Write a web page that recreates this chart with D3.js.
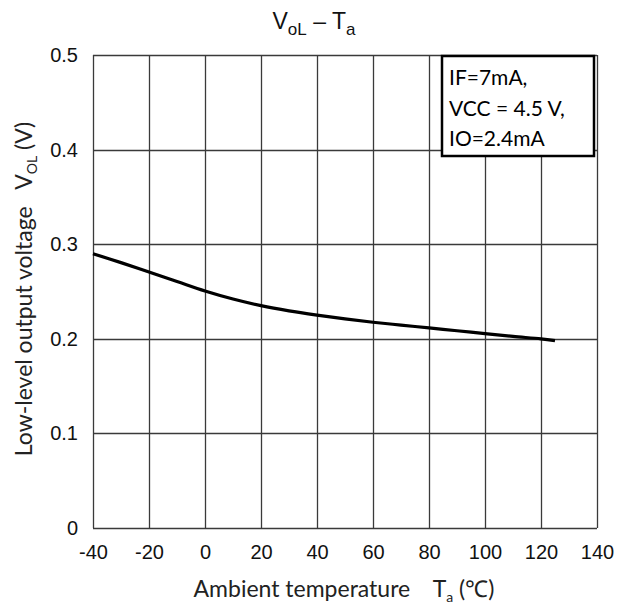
<!DOCTYPE html>
<html>
<head>
<meta charset="utf-8">
<script src="https://cdn.jsdelivr.net/npm/d3@7"></script>
<style>
  body { margin: 0; background: #fff; }
  svg { display: block; }
</style>
</head>
<body>
<div id="chart"></div>
<script>
const width = 629;
const height = 606;

// ambient temperature (degC) and low-level output voltage (V)
const temps = [-40, -30, -20, -10, 0, 10, 20, 30, 40, 50, 60, 70, 80, 90, 100, 110, 120, 125];
const vol = [0.290, 0.2805, 0.2705, 0.2605, 0.2505, 0.242, 0.235, 0.2295, 0.225, 0.221, 0.2175, 0.2145, 0.2115, 0.2085, 0.2055, 0.2025, 0.200, 0.198];

const xTicks = [-40, -20, 0, 20, 40, 60, 80, 100, 120, 140];
const yTicks = [0, 0.1, 0.2, 0.3, 0.4, 0.5];
const noteLines = ['IF=7mA,', 'VCC = 4.5 V,', 'IO=2.4mA'];

const plotLeft = 93, plotRight = 597, plotTop = 55, plotBottom = 528;

const svg = d3.select('#chart')
    .append('svg')
        .attr('width', width)
        .attr('height', height);

const x = d3.scaleLinear().domain([-40, 140]).range([plotLeft, plotRight]);
const y = d3.scaleLinear().domain([0, 0.5]).range([plotBottom, plotTop]);

// grid
svg.append('g')
    .selectAll('line')
    .data(xTicks)
    .enter()
    .append('line')
        .attr('x1', d => Math.round(x(d)) + 0.5)
        .attr('x2', d => Math.round(x(d)) + 0.5)
        .attr('y1', plotTop)
        .attr('y2', plotBottom)
        .attr('stroke', '#3a3a3a')
        .attr('stroke-width', 1.3);

svg.append('g')
    .selectAll('line')
    .data(yTicks)
    .enter()
    .append('line')
        .attr('x1', plotLeft)
        .attr('x2', plotRight)
        .attr('y1', d => Math.round(y(d)) + 0.5)
        .attr('y2', d => Math.round(y(d)) + 0.5)
        .attr('stroke', '#3a3a3a')
        .attr('stroke-width', 1.3);

// tick labels via axes, domain and tick marks hidden
const xAxis = svg.append('g')
    .attr('transform', `translate(0,${plotBottom})`)
    .call(d3.axisBottom(x).tickValues(xTicks).tickSize(0).tickPadding(17).tickFormat(d => String(d)));
const yAxis = svg.append('g')
    .attr('transform', `translate(${plotLeft},0)`)
    .call(d3.axisLeft(y).tickValues(yTicks).tickSize(0).tickPadding(15).tickFormat(d => d === 0 ? '0' : d3.format('.1f')(d)));

[xAxis, yAxis].forEach(a => {
    a.select('.domain').remove();
    a.selectAll('text')
        .attr('font-family', '"Liberation Sans", Arial, sans-serif')
        .attr('font-size', 20)
        .attr('fill', '#111');
});

// curve
const line = d3.line()
    .x((d, i) => x(temps[i]))
    .y(d => y(d))
    .curve(d3.curveCatmullRom);

svg.append('path')
    .attr('d', line(vol))
    .attr('fill', 'none')
    .attr('stroke', '#000')
    .attr('stroke-width', 3.2)
    .attr('stroke-linecap', 'butt');

// condition box
svg.append('rect')
    .attr('x', 442)
    .attr('y', 56)
    .attr('width', 152)
    .attr('height', 100)
    .attr('fill', '#fff')
    .attr('stroke', '#000')
    .attr('stroke-width', 2.5);

svg.append('g')
    .selectAll('text')
    .data(noteLines)
    .enter()
    .append('text')
        .attr('x', 449)
        .attr('y', (d, i) => 85 + i * 30.5)
        .attr('font-family', 'Lato, sans-serif')
        .attr('font-size', 21)
        .attr('fill', '#000')
        .text(d => d);

// title
const title = svg.append('text')
    .attr('x', 314)
    .attr('y', 29)
    .attr('text-anchor', 'middle')
    .attr('font-family', '"Liberation Sans", Arial, sans-serif')
    .attr('font-size', 23)
    .attr('fill', '#111');
title.append('tspan').text('V');
title.append('tspan').attr('font-size', 17).attr('dy', 6).text('oL');
title.append('tspan').attr('dy', -6).text(' – T');
title.append('tspan').attr('font-size', 17).attr('dy', 6).text('a');

// x axis title
const xt = svg.append('text')
    .attr('x', 344)
    .attr('y', 597)
    .attr('text-anchor', 'middle')
    .attr('font-family', 'Lato, sans-serif')
    .attr('font-size', 23)
    .attr('fill', '#222');
xt.append('tspan').text('Ambient temperature\u2003 T');
xt.append('tspan').attr('font-size', 14).attr('dy', 5).text('a');
xt.append('tspan').attr('dy', -5).text(' (\u2103)');

// y axis title
const yt = svg.append('text')
    .attr('transform', 'translate(32,289) rotate(-90)')
    .attr('text-anchor', 'middle')
    .attr('font-family', 'Lato, sans-serif')
    .attr('font-size', 23)
    .attr('fill', '#222');
yt.append('tspan').text('Low-level output voltage\u2002 V');
yt.append('tspan').attr('font-size', 14).attr('dy', 5).text('OL');
yt.append('tspan').attr('dy', -5).text(' (V)');
</script>
</body>
</html>
